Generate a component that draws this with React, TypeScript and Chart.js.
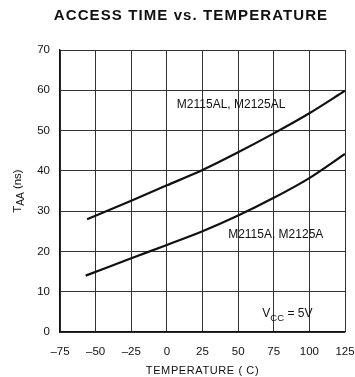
import React, { useEffect, useRef } from "react";
import { Chart, registerables } from "chart.js";

Chart.register(...registerables);

const temperaturesAL = [-56, -25, 0, 25, 50, 75, 100, 125];
const taaAL = [28.0, 32.6, 36.4, 40.2, 44.6, 49.3, 54.3, 59.9];
const temperaturesA = [-57, -25, 0, 25, 50, 75, 100, 125];
const taaA = [14.0, 18.3, 21.6, 25.0, 28.9, 33.3, 38.2, 44.2];
const xTickValues = [-75, -50, -25, 0, 25, 50, 75, 100, 125];
const yTickValues = [0, 10, 20, 30, 40, 50, 60, 70];
const seriesLabels = ["M2115AL, M2125AL", "M2115A, M2125A"];

const FONT = "'Liberation Sans', Arial, Helvetica, sans-serif";
const INK = "#111";

const annotations = {
  id: "annotations",
  afterDraw(chart: any) {
    const ctx = chart.ctx as CanvasRenderingContext2D;
    const xs = chart.scales.x;
    const ys = chart.scales.y;
    const area = chart.chartArea;
    ctx.save();
    ctx.fillStyle = INK;
    // title
    ctx.font = `bold 15px ${FONT}`;
    (ctx as any).letterSpacing = "1.1px";
    ctx.textAlign = "center";
    ctx.textBaseline = "alphabetic";
    ctx.fillText("ACCESS TIME vs. TEMPERATURE", 191, 20);
    (ctx as any).letterSpacing = "0px";

    // series labels
    ctx.font = `12px ${FONT}`;
    ctx.textAlign = "left";
    ctx.fillText(seriesLabels[0], xs.getPixelForValue(7), ys.getPixelForValue(55.6));
    ctx.fillText(seriesLabels[1], xs.getPixelForValue(43), ys.getPixelForValue(23.3));

    // VCC = 5V
    let x = xs.getPixelForValue(67);
    const yb = ys.getPixelForValue(3.6);
    ctx.font = `12px ${FONT}`;
    ctx.fillText("V", x, yb);
    x += ctx.measureText("V").width;
    ctx.font = `9.5px ${FONT}`;
    ctx.fillText("CC", x, yb + 4);
    x += ctx.measureText("CC").width;
    ctx.font = `12px ${FONT}`;
    ctx.fillText(" = 5V", x, yb);

    // x axis title
    ctx.font = `11px ${FONT}`;
    (ctx as any).letterSpacing = "0.6px";
    ctx.textAlign = "center";
    ctx.fillText("TEMPERATURE ( C)", (area.left + area.right) / 2, 374);
    (ctx as any).letterSpacing = "0px";

    // y axis title (rotated, with subscript)
    ctx.translate(21, (area.top + area.bottom) / 2);
    ctx.rotate(-Math.PI / 2);
    ctx.textAlign = "left";
    ctx.font = `11.5px ${FONT}`;
    const w1 = ctx.measureText("T").width;
    ctx.font = `10px ${FONT}`;
    const w2 = ctx.measureText("AA").width;
    ctx.font = `11.5px ${FONT}`;
    const w3 = ctx.measureText(" (ns)").width;
    let px = -(w1 + w2 + w3) / 2;
    ctx.fillText("T", px, 0);
    px += w1;
    ctx.font = `10px ${FONT}`;
    ctx.fillText("AA", px, 3);
    px += w2;
    ctx.font = `11.5px ${FONT}`;
    ctx.fillText(" (ns)", px, 0);
    ctx.restore();
  },
};

export default function App() {
  const ref = useRef<HTMLCanvasElement | null>(null);
  useEffect(() => {
    document.body.style.margin = "0";
    const canvas = ref.current!;
    const chart = new Chart(canvas, {
      type: "line",
      data: {
        datasets: [
          {
            label: seriesLabels[0],
            data: temperaturesAL.map((t, i) => ({ x: t, y: taaAL[i] })),
            borderColor: INK,
            borderWidth: 2.2,
            pointRadius: 0,
            tension: 0.3,
          },
          {
            label: seriesLabels[1],
            data: temperaturesA.map((t, i) => ({ x: t, y: taaA[i] })),
            borderColor: INK,
            borderWidth: 2.2,
            pointRadius: 0,
            tension: 0.3,
          },
        ],
      },
      options: {
        responsive: false,
        animation: false,
        layout: { padding: { top: 50, right: 10, left: 0, bottom: 0 } },
        plugins: { legend: { display: false }, tooltip: { enabled: false }, title: { display: false } },
        scales: {
          x: {
            type: "linear",
            min: -75,
            max: 125,
            afterBuildTicks: (s: any) => {
              s.ticks = xTickValues.map((v) => ({ value: v }));
            },
            afterFit: (s: any) => {
              s.height = 45;
              s.paddingLeft = 0;
              s.paddingRight = 0;
            },
            ticks: {
              padding: 13,
              color: INK,
              font: { family: FONT, size: 11.5 },
              maxRotation: 0,
              autoSkip: false,
              callback: (v: any) => String(v).replace("-", "–"),
            },
            grid: { color: "#333", lineWidth: 1, drawTicks: false },
            border: { color: INK, width: 1.3 },
          },
          y: {
            min: 0,
            max: 70,
            afterBuildTicks: (s: any) => {
              s.ticks = yTickValues.map((v) => ({ value: v }));
            },
            afterFit: (s: any) => {
              s.width = 60;
              s.paddingTop = 0;
              s.paddingBottom = 0;
            },
            ticks: {
              padding: 10,
              color: INK,
              font: { family: FONT, size: 11.5 },
            },
            grid: { color: "#333", lineWidth: 1, drawTicks: false },
            border: { color: INK, width: 1.3 },
          },
        },
      },
      plugins: [annotations],
    });
    return () => chart.destroy();
  }, []);
  return (
    <div style={{ position: "relative", width: 355, height: 377, background: "#fff" }}>
      <canvas ref={ref} width={355} height={377} />
    </div>
  );
}
